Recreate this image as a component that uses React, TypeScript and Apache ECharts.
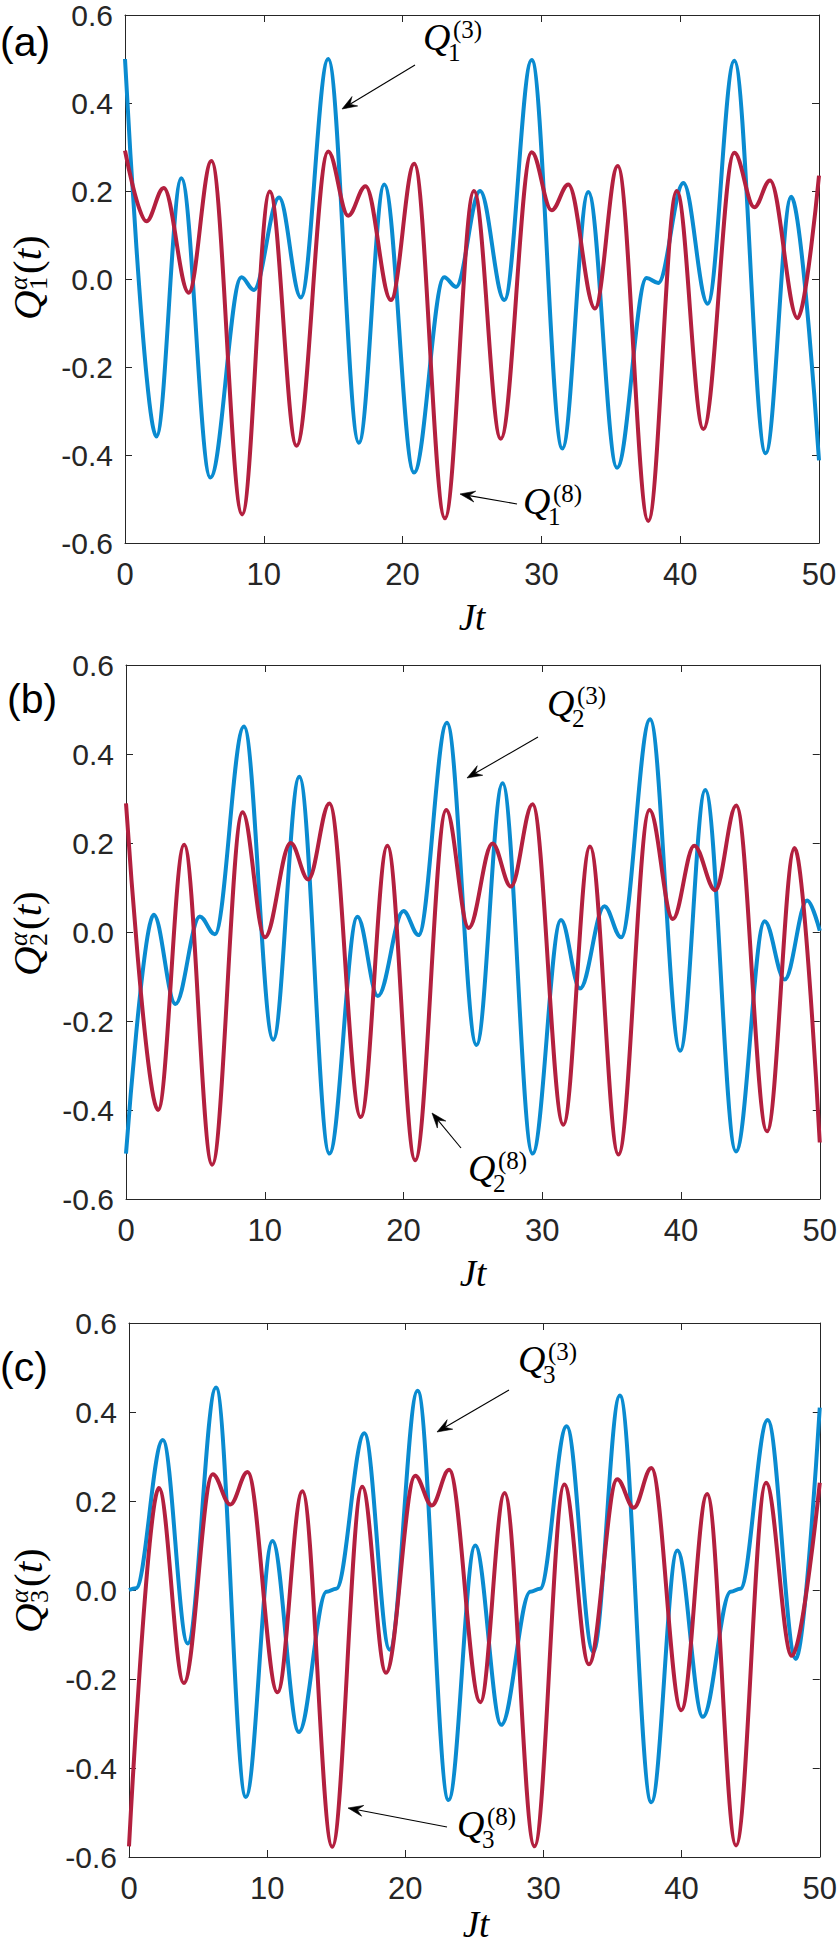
import React, { useEffect, useRef } from "react";
import * as echarts from "echarts";

// Time axis and value axis ticks
const xTickValues = [0, 10, 20, 30, 40, 50];
const yTickValues = [-0.6, -0.4, -0.2, 0.0, 0.2, 0.4, 0.6];

// Panel (a): Q_1^(3) (blue) and Q_1^(8) (red) — extrema [Jt, value]
const q1_3: [number, number][] = [
  [0, 0.5], [2.26, -0.358], [4.06, 0.229], [6.15, -0.451], [8.39, 0.004], [9.28, -0.025],
  [11.1, 0.185], [12.67, -0.042], [14.64, 0.5], [16.85, -0.372], [18.68, 0.215], [20.82, -0.44],
  [23.0, 0.004], [23.85, -0.018], [25.58, 0.2], [27.33, -0.048], [29.3, 0.498], [31.51, -0.385],
  [33.38, 0.198], [35.45, -0.429], [37.58, 0.002], [38.42, -0.009], [40.23, 0.218], [41.98, -0.056],
  [43.9, 0.496], [46.16, -0.396], [48.0, 0.187], [50, -0.412],
];
const q1_8: [number, number][] = [
  [0, 0.292], [1.54, 0.131], [2.79, 0.207], [4.59, -0.031], [6.23, 0.268], [8.44, -0.535],
  [10.43, 0.199], [12.36, -0.379], [14.64, 0.29], [16.08, 0.144], [17.33, 0.211], [19.16, -0.048],
  [20.84, 0.262], [23.05, -0.544], [25.14, 0.2], [27.07, -0.363], [29.3, 0.288], [30.74, 0.156],
  [31.94, 0.215], [33.86, -0.067], [35.5, 0.257], [37.7, -0.55], [39.75, 0.2], [41.67, -0.341],
  [43.9, 0.287], [45.34, 0.163], [46.47, 0.224], [48.46, -0.089], [50, 0.235],
];

// Panel (b): Q_2^(3) (blue) and Q_2^(8) (red)
const q2_3: [number, number][] = [
  [0, -0.498], [2.0, 0.039], [3.56, -0.162], [5.32, 0.035], [6.4, -0.005], [8.5, 0.462],
  [10.61, -0.242], [12.49, 0.349], [14.66, -0.498], [16.68, 0.034], [18.15, -0.144], [20.0, 0.047],
  [21.08, -0.007], [23.13, 0.47], [25.26, -0.254], [27.14, 0.334], [29.3, -0.498], [31.35, 0.027],
  [32.72, -0.127], [34.48, 0.058], [35.68, -0.012], [37.77, 0.478], [39.94, -0.267], [41.75, 0.319],
  [43.96, -0.493], [46.03, 0.024], [47.47, -0.107], [49.09, 0.071], [50, 0.003],
];
const q2_8: [number, number][] = [
  [0, 0.289], [2.31, -0.4], [4.19, 0.196], [6.21, -0.523], [8.4, 0.269], [10.01, -0.012],
  [11.87, 0.2], [13.14, 0.118], [14.66, 0.289], [16.92, -0.416], [18.84, 0.194], [20.84, -0.513],
  [23.08, 0.274], [24.7, 0.009], [26.41, 0.199], [27.74, 0.102], [29.3, 0.287], [31.52, -0.433],
  [33.44, 0.192], [35.49, -0.5], [37.73, 0.274], [39.41, 0.029], [40.95, 0.194], [42.47, 0.094],
  [43.98, 0.284], [46.2, -0.448], [48.19, 0.189], [50, -0.473],
];

// Panel (c): Q_3^(3) (blue) and Q_3^(8) (red)
const q3_3: [number, number][] = [
  [0, 0.0], [0.5, 0.004], [2.45, 0.337], [4.25, -0.12], [6.3, 0.455], [8.46, -0.465],
  [10.38, 0.11], [12.3, -0.319], [14.3, -0.004], [15.0, 0.003], [17.04, 0.352], [18.87, -0.134],
  [20.89, 0.448], [23.13, -0.472], [25.06, 0.1], [26.95, -0.303], [29.05, -0.004], [29.75, 0.003],
  [31.68, 0.368], [33.6, -0.139], [35.53, 0.437], [37.81, -0.477], [39.69, 0.089], [41.54, -0.285],
  [43.55, -0.004], [44.25, 0.003], [46.23, 0.382], [48.27, -0.155], [50, 0.41],
];
const q3_8: [number, number][] = [
  [0, -0.576], [2.16, 0.229], [3.97, -0.209], [6.06, 0.26], [7.33, 0.192], [8.58, 0.265],
  [10.75, -0.23], [12.55, 0.222], [14.71, -0.577], [16.88, 0.232], [18.6, -0.186], [20.72, 0.257],
  [21.92, 0.19], [23.17, 0.27], [25.43, -0.252], [27.19, 0.218], [29.35, -0.576], [31.51, 0.237],
  [33.29, -0.167], [35.34, 0.249], [36.54, 0.185], [37.81, 0.274], [39.98, -0.27], [41.85, 0.216],
  [43.94, -0.574], [46.11, 0.241], [47.98, -0.148], [50, 0.241],
];

const panelLetters = ["(a)", "(b)", "(c)"];
const panelSubscripts = ["1", "2", "3"];
const blueSeries = [q1_3, q2_3, q3_3];
const redSeries = [q1_8, q2_8, q3_8];

const BLUE = "#0A8BD0";
const RED = "#B3203F";
const AXIS = "#262626";
const SANS = "'Liberation Sans', Arial, Helvetica, sans-serif";
const SERIF = "'Liberation Serif', 'Times New Roman', serif";

const grids = [
  { left: 125, top: 13, width: 694, height: 530 },
  { left: 126, top: 665, width: 694, height: 534 },
  { left: 129, top: 1323, width: 693, height: 534 },
];

function txt(x: number, y: number, text: string, size: number, italic: boolean, align = "left", valign = "middle", family = SERIF, fill = "#000") {
  return {
    type: "text",
    x,
    y,
    silent: true,
    style: {
      text,
      fontFamily: family,
      fontSize: size,
      fontStyle: italic ? "italic" : "normal",
      fill,
      textAlign: align,
      textVerticalAlign: valign,
      align,
      verticalAlign: valign,
    },
  };
}

function qLabel(x0: number, y0: number, sub: string, sup: string) {
  return [
    txt(x0, y0, "Q", 38, true),
    txt(x0 + 30, y0 - 8, sup, 25, false),
    txt(x0 + 25, y0 + 15, sub, 25, false),
  ];
}

function arrow(x1: number, y1: number, x2: number, y2: number) {
  const dx = x2 - x1;
  const dy = y2 - y1;
  const len = Math.sqrt(dx * dx + dy * dy);
  const ux = dx / len;
  const uy = dy / len;
  const nx = -uy;
  const ny = ux;
  const L = 15;
  const W = 5.5;
  const bx = x2 - ux * L;
  const by = y2 - uy * L;
  const kx = x2 - ux * L * 0.62;
  const ky = y2 - uy * L * 0.62;
  return [
    {
      type: "line",
      silent: true,
      shape: { x1, y1, x2: kx, y2: ky },
      style: { stroke: "#000", lineWidth: 1.1 },
    },
    {
      type: "polygon",
      silent: true,
      shape: {
        points: [
          [x2, y2],
          [bx + nx * W, by + ny * W],
          [kx, ky],
          [bx - nx * W, by - ny * W],
        ],
      },
      style: { fill: "#000", stroke: "#000", lineWidth: 0.6 },
    },
  ];
}

function yLabel(cx: number, cy: number, sub: string) {
  return {
    type: "group",
    x: cx,
    y: cy,
    rotation: Math.PI / 2,
    silent: true,
    children: [
      txt(-43, 0, "Q", 41, true),
      txt(-13, -9, "α", 26, true),
      txt(-13, 11, sub, 26, false),
      {
        type: "text",
        x: 3,
        y: 0,
        style: {
          text: "{a|(}{b|t}{a|)}",
          textAlign: "left",
          textVerticalAlign: "middle",
          align: "left",
          verticalAlign: "middle",
          rich: {
            a: { fontFamily: SERIF, fontSize: 41, fill: "#000" },
            b: { fontFamily: SERIF, fontSize: 41, fontStyle: "italic", fill: "#000" },
          },
        },
      },
    ],
  };
}

export default function App() {
  const ref = useRef<HTMLDivElement>(null);

  useEffect(() => {
    document.body.style.margin = "0";
    const chart = echarts.init(ref.current as HTMLDivElement, null, { renderer: "svg" });

    const xAxes: any[] = [];
    const yAxes: any[] = [];
    const series: any[] = [];

    grids.forEach((g, i) => {
      const common = {
        gridIndex: i,
        type: "value",
        axisLine: { show: true, onZero: false, lineStyle: { color: AXIS, width: 1 } },
        axisTick: { show: true, inside: true, length: 7, lineStyle: { color: AXIS, width: 1 } },
        splitLine: { show: false },
      };
      xAxes.push({
        ...common,
        position: "bottom",
        min: xTickValues[0],
        max: xTickValues[xTickValues.length - 1],
        interval: 10,
        axisLabel: {
          show: true,
          margin: 16,
          fontFamily: SANS,
          fontSize: 31,
          color: AXIS,
          formatter: (v: number) => String(Math.round(v)),
        },
      });
      xAxes.push({
        ...common,
        position: "top",
        min: xTickValues[0],
        max: xTickValues[xTickValues.length - 1],
        interval: 10,
        axisLabel: { show: false },
      });
      yAxes.push({
        ...common,
        position: "left",
        min: yTickValues[0],
        max: yTickValues[yTickValues.length - 1],
        interval: 0.2,
        axisLabel: {
          show: true,
          margin: 12,
          fontFamily: SANS,
          fontSize: 30,
          lineHeight: 22,
          color: AXIS,
          formatter: (v: number) => (Math.abs(v) < 1e-9 ? "0.0" : v.toFixed(1)),
        },
      });
      yAxes.push({
        ...common,
        position: "right",
        min: yTickValues[0],
        max: yTickValues[yTickValues.length - 1],
        interval: 0.2,
        axisLabel: { show: false },
      });
      series.push({
        type: "line",
        name: `Q${panelSubscripts[i]}^(3)`,
        xAxisIndex: 2 * i,
        yAxisIndex: 2 * i,
        data: blueSeries[i],
        showSymbol: false,
        symbol: "none",
        smooth: 0.36,
        smoothMonotone: "x",
        lineStyle: { color: BLUE, width: 4 },
        itemStyle: { color: BLUE },
        z: 2,
      });
      series.push({
        type: "line",
        name: `Q${panelSubscripts[i]}^(8)`,
        xAxisIndex: 2 * i,
        yAxisIndex: 2 * i,
        data: redSeries[i],
        showSymbol: false,
        symbol: "none",
        smooth: 0.36,
        smoothMonotone: "x",
        lineStyle: { color: RED, width: 4 },
        itemStyle: { color: RED },
        z: 3,
      });
    });

    const graphics: any[] = [];
    // panel letters
    graphics.push(txt(0, 42, panelLetters[0], 41, false, "left", "middle", SANS));
    graphics.push(txt(7, 699, panelLetters[1], 41, false, "left", "middle", SANS));
    graphics.push(txt(0, 1367, panelLetters[2], 41, false, "left", "middle", SANS));
    // y labels
    graphics.push(yLabel(27, 277, "1"));
    graphics.push(yLabel(27, 933, "2"));
    graphics.push(yLabel(28, 1590, "3"));
    // x labels
    graphics.push(txt(472, 617, "Jt", 37, true, "center", "middle"));
    graphics.push(txt(473, 1273, "Jt", 37, true, "center", "middle"));
    graphics.push(txt(476, 1924, "Jt", 37, true, "center", "middle"));
    // annotations
    graphics.push(...qLabel(423, 37, "1", "(3)"));
    graphics.push(...arrow(415, 65, 342, 109));
    graphics.push(...qLabel(523, 501, "1", "(8)"));
    graphics.push(...arrow(517, 504, 460, 494));
    graphics.push(...qLabel(547, 703, "2", "(3)"));
    graphics.push(...arrow(538, 737, 467, 778));
    graphics.push(...qLabel(468, 1168, "2", "(8)"));
    graphics.push(...arrow(461, 1148, 432, 1113));
    graphics.push(...qLabel(518, 1359, "3", "(3)"));
    graphics.push(...arrow(509, 1390, 437, 1432));
    graphics.push(...qLabel(457, 1824, "3", "(8)"));
    graphics.push(...arrow(447, 1827, 348, 1808));

    chart.setOption({
      animation: false,
      backgroundColor: "#ffffff",
      grid: grids.map((g) => ({ ...g, containLabel: false })),
      xAxis: xAxes,
      yAxis: yAxes,
      series,
      graphic: { elements: graphics },
    });

    return () => chart.dispose();
  }, []);

  return <div ref={ref} style={{ width: 840, height: 1946 }} />;
}
